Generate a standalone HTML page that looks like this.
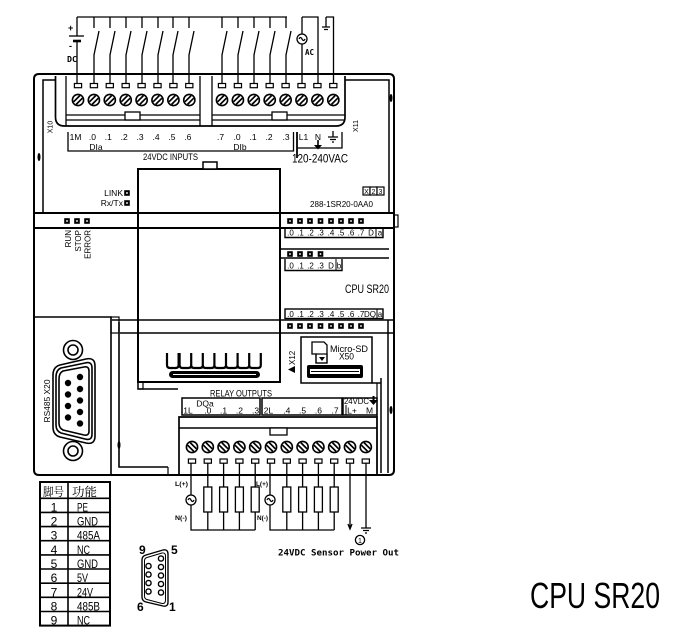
<!DOCTYPE html>
<html><head><meta charset="utf-8">
<style>
html,body{margin:0;padding:0;background:#fff;}
svg{display:block;}
text{font-family:"Liberation Sans",sans-serif;fill:#000;}
.m{font-family:"DejaVu Sans Mono","Liberation Mono",monospace;font-weight:bold;}
</style></head><body>
<svg width="687" height="635" viewBox="0 0 687 635" xmlns="http://www.w3.org/2000/svg">
<defs>
 <g id="sa"><circle r="5.6" fill="#fff" stroke="#000" stroke-width="1.6"/><path d="M-4.4,1.8L1.8,-4.4M-1.8,4.4L4.4,-1.8" stroke="#000" stroke-width="1.7"/></g>
 <g id="sb"><circle r="5.6" fill="#fff" stroke="#000" stroke-width="1.6"/><path d="M-1.8,-4.4L4.4,1.8M-4.4,-1.8L1.8,4.4" stroke="#000" stroke-width="1.7"/></g>
 <rect id="tr" x="-3.6" y="0" width="7.2" height="4.2" fill="#fff" stroke="#000" stroke-width="1.2"/>
 <g id="led"><rect x="-2.8" y="-2.8" width="5.6" height="5.6" fill="#000"/><rect x="-0.8" y="-0.8" width="1.6" height="1.6" fill="#fff"/></g>
 <g id="ld"><rect x="-4" y="0" width="8" height="25" fill="#fff" stroke="#000" stroke-width="1.3"/></g>
</defs>

<!-- ===== top wiring ===== -->
<g stroke="#000" stroke-width="1.3" fill="none">
 <path d="M77,17H287"/>
 <path d="M77,17V36M77,41V84"/>
 <path d="M69,36H84"/>
 <path d="M73,41H81" stroke-width="2.6"/>
 <path d="M94,17V28M99,31L94,55V84"/>
 <path d="M110,17V28M115,31L110,55V84"/>
 <path d="M126,17V28M131,31L126,55V84"/>
 <path d="M142,17V28M147,31L142,55V84"/>
 <path d="M158,17V28M163,31L158,55V84"/>
 <path d="M173,17V28M178,31L173,55V84"/>
 <path d="M189,17V28M194,31L189,55V84"/>
 <path d="M222,17V28M227,31L222,55V84"/>
 <path d="M238,17V28M243,31L238,55V84"/>
 <path d="M254,17V28M259,31L254,55V84"/>
 <path d="M270,17V28M275,31L270,55V84"/>
 <path d="M286,17V28M291,31L286,55V84"/>
 <path d="M302,17H318V84M302,17V34M302,44V84"/>
 <circle cx="302" cy="39" r="5"/>
 <path d="M299,39q1.5,-3 3,0t3,0"/>
 <path d="M326,17V27M322,27H330M324,29.5H328M326,17H333.5V84"/>
</g>
<text x="68" y="31" font-size="9" font-weight="bold">+</text>
<text x="69" y="49" font-size="9" font-weight="bold">-</text>
<text x="67" y="62" font-size="8" font-weight="bold" class="m" textLength="10" lengthAdjust="spacingAndGlyphs">DC</text>
<text x="305" y="55" font-size="8" class="m" textLength="9" lengthAdjust="spacingAndGlyphs">AC</text>

<!-- ===== body ===== -->
<g stroke="#000" fill="none">
 <path d="M34,79Q34,74 39,74H389Q394,74 394,79V470Q394,475 389,475H39Q34,475 34,470Z" stroke-width="2"/>
 <path d="M43,213V80H55M345,80H389V213" stroke-width="1.5"/>
 <path d="M34,213H394M34,228H394" stroke-width="2"/>
 <rect x="394" y="215" width="4" height="12" stroke-width="1.2"/>
 <path d="M55.5,76V117Q55.5,126 64.5,126H336Q345,126 345,117V76" stroke-width="1.7"/>
 <path d="M66,76V126M200,76V126M212,76V126M66,115H200M66,120H200M212,115H345M212,120H345" stroke-width="1.3"/>
</g>
<rect x="125" y="112" width="15" height="8" fill="#fff" stroke="#000" stroke-width="1.3"/>
<rect x="272" y="112" width="15" height="8" fill="#fff" stroke="#000" stroke-width="1.3"/>
<ellipse cx="39" cy="157" rx="1.5" ry="4" fill="#000"/>
<ellipse cx="391" cy="98" rx="1.5" ry="4" fill="#000"/>
<ellipse cx="391" cy="410" rx="1.5" ry="4" fill="#000"/>
<ellipse cx="119" cy="445" rx="1.5" ry="4" fill="#000"/>

<!-- top terminals -->
<g>
 <use href="#tr" x="78" y="83.5"/><use href="#tr" x="93.9" y="83.5"/><use href="#tr" x="109.8" y="83.5"/><use href="#tr" x="125.7" y="83.5"/>
 <use href="#tr" x="141.6" y="83.5"/><use href="#tr" x="157.5" y="83.5"/><use href="#tr" x="173.4" y="83.5"/><use href="#tr" x="189.3" y="83.5"/>
 <use href="#tr" x="222" y="83.5"/><use href="#tr" x="237.9" y="83.5"/><use href="#tr" x="253.8" y="83.5"/><use href="#tr" x="269.7" y="83.5"/>
 <use href="#tr" x="285.6" y="83.5"/><use href="#tr" x="301.5" y="83.5"/><use href="#tr" x="317.4" y="83.5"/><use href="#tr" x="333.3" y="83.5"/>
 <use href="#sa" x="78" y="100"/><use href="#sa" x="93.9" y="100"/><use href="#sa" x="109.8" y="100"/><use href="#sa" x="125.7" y="100"/>
 <use href="#sa" x="141.6" y="100"/><use href="#sa" x="157.5" y="100"/><use href="#sa" x="173.4" y="100"/><use href="#sa" x="189.3" y="100"/>
 <use href="#sa" x="222" y="100"/><use href="#sa" x="237.9" y="100"/><use href="#sa" x="253.8" y="100"/><use href="#sa" x="269.7" y="100"/>
 <use href="#sa" x="285.6" y="100"/><use href="#sa" x="301.5" y="100"/><use href="#sa" x="317.4" y="100"/><use href="#sa" x="333.3" y="100"/>
</g>

<!-- top labels -->
<g font-size="8.5" text-anchor="middle">
 <text x="75.5" y="140">1M</text>
 <text x="92.4" y="140">.0</text><text x="108.3" y="140">.1</text><text x="124.2" y="140">.2</text><text x="140.1" y="140">.3</text>
 <text x="156" y="140">.4</text><text x="171.9" y="140">.5</text><text x="187.8" y="140">.6</text>
 <text x="220.5" y="140">.7</text><text x="237" y="140">.0</text><text x="253" y="140">.1</text><text x="269" y="140">.2</text><text x="286" y="140">.3</text>
 <text x="303.5" y="140">L1</text><text x="318" y="140">N</text>
 <text x="96" y="150">DIa</text><text x="240" y="150">DIb</text>
</g>
<g stroke="#000" fill="none" stroke-width="1.3">
 <path d="M68,132V151H293.5V132"/>
 <path d="M297,132V158" stroke-width="1.8"/>
 <path d="M297,148H342V132"/>
 <path d="M318,140V145" stroke-width="1.6"/>
 <path d="M333,131V137M328,137H338M330,139.5H336M332,142H334"/>
</g>
<path d="M314,145H322L318,149.5Z" fill="#000"/>
<text x="143" y="160" font-size="9" textLength="55" lengthAdjust="spacingAndGlyphs">24VDC INPUTS</text>
<text x="292" y="162.5" font-size="12" textLength="56" lengthAdjust="spacingAndGlyphs">120-240VAC</text>
<text transform="translate(52.5,127) rotate(-90)" font-size="7" text-anchor="middle">X10</text>
<text transform="translate(358,126) rotate(-90)" font-size="7" text-anchor="middle">X11</text>

<!-- central rect -->
<path d="M138,382V169H280V382Z" fill="none" stroke="#000" stroke-width="2"/>
<path d="M195,169H225" stroke="#000" stroke-width="2"/>
<rect x="203" y="162" width="14" height="7" fill="#fff" stroke="#000" stroke-width="1.5"/>
<path d="M138,213H280M138,228H280" stroke="#000" stroke-width="2"/>

<!-- LINK Rx/Tx -->
<text x="123" y="196" font-size="8.5" text-anchor="end">LINK</text>
<text x="123" y="206" font-size="8.5" text-anchor="end">Rx/Tx</text>
<use href="#led" x="127" y="193"/><use href="#led" x="127" y="203"/>

<!-- RUN STOP ERROR -->
<use href="#led" x="67" y="221"/><use href="#led" x="77" y="221"/><use href="#led" x="87" y="221"/>
<g font-size="8" text-anchor="end">
 <text transform="translate(71,230) rotate(-90)">RUN</text>
 <text transform="translate(81,230) rotate(-90)">STOP</text>
 <text transform="translate(90.5,230) rotate(-90)">ERROR</text>
</g>

<!-- right top region -->
<g stroke="#000" fill="#fff" stroke-width="1.2">
 <rect x="363" y="187" width="7" height="8"/><rect x="370" y="187" width="7" height="8"/><rect x="377" y="187" width="7" height="8"/>
</g>
<g font-size="7" text-anchor="middle"><text x="366.5" y="194">X</text><text x="373.5" y="194">2</text><text x="380.5" y="194">3</text></g>
<text x="310" y="207" font-size="8.5" textLength="63" lengthAdjust="spacingAndGlyphs">288-1SR20-0AA0</text>

<g>
 <use href="#led" x="290" y="221"/><use href="#led" x="300" y="221"/><use href="#led" x="310" y="221"/><use href="#led" x="320.5" y="221"/>
 <use href="#led" x="331" y="221"/><use href="#led" x="341" y="221"/><use href="#led" x="351" y="221"/><use href="#led" x="361" y="221"/>
 <use href="#led" x="290" y="254"/><use href="#led" x="300" y="254"/><use href="#led" x="310" y="254"/><use href="#led" x="320.5" y="254"/>
 <use href="#led" x="290" y="326"/><use href="#led" x="300" y="326"/><use href="#led" x="310" y="326"/><use href="#led" x="320.5" y="326"/>
 <use href="#led" x="331" y="326"/><use href="#led" x="341" y="326"/><use href="#led" x="351" y="326"/><use href="#led" x="361" y="326"/>
</g>
<g stroke="#000" fill="none" stroke-width="1.4">
 <path d="M285,228V237.5H383V228"/>
 <path d="M280,249H389M280,258H389"/>
 <path d="M285,259V270.5H342V259"/>
 <rect x="285" y="309" width="98" height="9.5"/>
 <path d="M112,320H394M120,333H394" stroke-width="1.6"/>
 <path d="M376,228V237.5M336,259V270.5M377,309V318.5" stroke-width="1"/>
</g>
<g font-size="8" text-anchor="middle">
 <text x="290.5" y="235.5">.0</text><text x="300.5" y="235.5">.1</text><text x="310.5" y="235.5">.2</text><text x="320.5" y="235.5">.3</text>
 <text x="331" y="235.5">.4</text><text x="341" y="235.5">.5</text><text x="351" y="235.5">.6</text><text x="361" y="235.5">.7</text>
 <text x="371" y="235.5">D</text><text x="380" y="235.5">a</text>
 <text x="290.5" y="268.5">.0</text><text x="300.5" y="268.5">.1</text><text x="310.5" y="268.5">.2</text><text x="320.5" y="268.5">.3</text>
 <text x="331" y="268.5">D</text><text x="339" y="268.5">b</text>
 <text x="290.5" y="316.8">.0</text><text x="300.5" y="316.8">.1</text><text x="310.5" y="316.8">.2</text><text x="320.5" y="316.8">.3</text>
 <text x="331" y="316.8">.4</text><text x="341" y="316.8">.5</text><text x="351" y="316.8">.6</text><text x="361" y="316.8">.7</text>
 <text x="370" y="316.8">DQ</text><text x="380" y="316.8">a</text>
</g>
<text x="345" y="293" font-size="11.5" textLength="44" lengthAdjust="spacingAndGlyphs">CPU SR20</text>

<!-- RS485 section -->
<g stroke="#000" fill="none" stroke-width="1.6">
 <path d="M34,317H111V475"/>
 <path d="M119,322V467H168"/>
 <rect x="111" y="317" width="8" height="16" stroke-width="1.2"/>
 <path d="M138,382V389H178" stroke-width="1.4"/>
 <rect x="138" y="382" width="5" height="7" stroke-width="1.2"/>
 <path d="M168,467V475" stroke-width="1.2"/>
</g>
<text transform="translate(50,401) rotate(-90)" font-size="8.5" text-anchor="middle" textLength="43" lengthAdjust="spacingAndGlyphs">RS485 X20</text>
<!-- big DB9 -->
<g stroke="#000" fill="none" stroke-width="1.6">
 <circle cx="73" cy="350" r="9.5"/><circle cx="73" cy="350" r="5"/>
 <circle cx="73" cy="451" r="9.5"/><circle cx="73" cy="451" r="5"/>
 <path d="M60,365Q53,367 53,375V427Q53,435 60,437L86,443Q95,445 95,436V366Q95,357 86,359Z" fill="#fff"/>
 <path d="M61,368Q56,370 56,377V425Q56,431 61,433L85,439Q92,441 92,434V368Q92,361 85,363Z"/>
 <path d="M63,371Q59,373 59,379V423Q59,428 63,430L84,435Q89,436 89,431V371Q89,366 84,367Z"/>
</g>
<g fill="#000">
 <circle cx="80" cy="377" r="3.2"/><circle cx="80" cy="389" r="3.2"/><circle cx="80" cy="400.5" r="3.2"/><circle cx="80" cy="412" r="3.2"/><circle cx="80" cy="423.5" r="3.2"/>
 <circle cx="68" cy="383" r="3.2"/><circle cx="68" cy="394.5" r="3.2"/><circle cx="68" cy="406" r="3.2"/><circle cx="68" cy="417.5" r="3.2"/>
</g>

<!-- connector teeth -->
<path d="M167,353V365q0,3 3,3h5.6q3,0 3,-3V353M179.6,353V365q0,3 3,3h5.6q3,0 3,-3V353M191.2,353V365q0,3 3,3h5.6q3,0 3,-3V353M202.8,353V365q0,3 3,3h5.6q3,0 3,-3V353M214.4,353V365q0,3 3,3h5.6q3,0 3,-3V353M226,353V365q0,3 3,3h5.6q3,0 3,-3V353M237.6,353V365q0,3 3,3h5.6q3,0 3,-3V353M249.2,353V365q0,3 3,3h5.6q3,0 3,-3V353" fill="none" stroke="#000" stroke-width="2.2"/>
<rect x="169" y="371" width="91" height="7" rx="3.5" fill="#000"/>
<path d="M173,374.5H256" stroke="#fff" stroke-width="1"/>

<!-- X12 & micro SD -->
<text transform="translate(295,365) rotate(-90)" font-size="8">X12</text>
<path d="M288,369.5L295,366V373Z" fill="#000"/>
<rect x="301" y="337" width="71" height="46" fill="none" stroke="#000" stroke-width="1.5"/>
<path d="M312,342H324L327,345V363H316V354H312Z" fill="#fff" stroke="#000" stroke-width="1.3"/>
<rect x="316" y="354" width="11" height="9" fill="none" stroke="#000" stroke-width="1.2"/>
<path d="M319,357H325L322,361Z" fill="#000"/>
<text x="330" y="352" font-size="9.5" textLength="38" lengthAdjust="spacingAndGlyphs">Micro-SD</text>
<text x="339" y="359.5" font-size="9" textLength="15" lengthAdjust="spacingAndGlyphs">X50</text>
<rect x="307" y="365" width="56" height="13" rx="2" fill="#000"/>
<rect x="310" y="369" width="50" height="5" fill="#fff"/>
<path d="M311,371.5H359" stroke="#000" stroke-width="1"/>
<g stroke="#000" fill="none" stroke-width="1.5">
 <path d="M372,383H381M381,378V473M388,320V473"/>
 <path d="M377,383V473" stroke-width="1.2"/>
</g>

<!-- relay outputs -->
<text x="210" y="396.5" font-size="9" textLength="62" lengthAdjust="spacingAndGlyphs">RELAY OUTPUTS</text>
<g stroke="#000" fill="none" stroke-width="1.5">
 <rect x="182" y="398" width="78" height="17"/>
 <rect x="262" y="398" width="80" height="17"/>
 <rect x="343" y="398" width="34" height="17"/>
 <path d="M346,405V415" stroke-width="1"/>
 <path d="M373.5,396V400" stroke-width="2"/>
</g>
<path d="M369,400H378L373.5,405Z" fill="#000"/>
<text x="344" y="404" font-size="8.5" textLength="25" lengthAdjust="spacingAndGlyphs">24VDC</text>
<text x="205" y="406.5" font-size="8.5" text-anchor="middle">DQa</text>
<g font-size="8.5" text-anchor="middle">
 <text x="188" y="413.5">1L</text><text x="207.8" y="413.5">.0</text><text x="223.6" y="413.5">.1</text><text x="239.4" y="413.5">.2</text><text x="255.5" y="413.5">.3</text>
 <text x="268.5" y="413.5">2L</text><text x="286.8" y="413.5">.4</text><text x="302.6" y="413.5">.5</text><text x="318.4" y="413.5">.6</text><text x="335" y="413.5">.7</text>
 <text x="352" y="413.5">L+</text><text x="369.5" y="413.5">M</text>
</g>

<!-- bottom terminal block -->
<path d="M179,475V417H377V475" fill="none" stroke="#000" stroke-width="1.7"/>
<path d="M179,428H377" stroke="#000" stroke-width="1.5"/>
<rect x="270" y="428" width="17" height="7" fill="#fff" stroke="#000" stroke-width="1.3"/>
<g>
 <use href="#sb" x="192" y="447"/><use href="#sb" x="207.8" y="447"/><use href="#sb" x="223.6" y="447"/><use href="#sb" x="239.4" y="447"/>
 <use href="#sb" x="255.2" y="447"/><use href="#sb" x="271" y="447"/><use href="#sb" x="286.8" y="447"/><use href="#sb" x="302.6" y="447"/>
 <use href="#sb" x="318.4" y="447"/><use href="#sb" x="334.2" y="447"/><use href="#sb" x="350" y="447"/><use href="#sb" x="365.8" y="447"/>
 <use href="#tr" x="192" y="459"/><use href="#tr" x="207.8" y="459"/><use href="#tr" x="223.6" y="459"/><use href="#tr" x="239.4" y="459"/>
 <use href="#tr" x="255.2" y="459"/><use href="#tr" x="271" y="459"/><use href="#tr" x="286.8" y="459"/><use href="#tr" x="302.6" y="459"/>
 <use href="#tr" x="318.4" y="459"/><use href="#tr" x="334.2" y="459"/><use href="#tr" x="350" y="459"/><use href="#tr" x="365.8" y="459"/>
</g>

<!-- bottom wiring -->
<g stroke="#000" fill="none" stroke-width="1.3">
 <path d="M191,463.2V495M191,505V530H255.2"/>
 <circle cx="191" cy="500" r="5"/>
 <path d="M188,500q1.5,-3 3,0t3,0"/>
 <path d="M207.8,463.2V487M207.8,512V530M223.6,463.2V487M223.6,512V530M239.4,463.2V487M239.4,512V530M255.2,463.2V487M255.2,512V530"/>
 <path d="M270,463.2V495M270,505V530H334.2"/>
 <circle cx="270" cy="500" r="5"/>
 <path d="M267,500q1.5,-3 3,0t3,0"/>
 <path d="M286.8,463.2V487M286.8,512V530M302.6,463.2V487M302.6,512V530M318.4,463.2V487M318.4,512V530M334.2,463.2V487M334.2,512V530"/>
 <path d="M350,463.2V528M348,524L350,529L352,524"/>
 <path d="M366,463.2V528M361,528H371M363,530.5H369M365,533H367" />
 <circle cx="360" cy="540" r="4.6"/>
</g>
<g>
 <use href="#ld" x="207.8" y="487"/><use href="#ld" x="223.6" y="487"/><use href="#ld" x="239.4" y="487"/><use href="#ld" x="255.2" y="487"/>
 <use href="#ld" x="286.8" y="487"/><use href="#ld" x="302.6" y="487"/><use href="#ld" x="318.4" y="487"/><use href="#ld" x="334.2" y="487"/>
</g>
<text x="360" y="543" font-size="7" text-anchor="middle">1</text>
<g class="m" font-size="6.5">
 <text x="175" y="486" textLength="13" lengthAdjust="spacingAndGlyphs">L(+)</text>
 <text x="175" y="520" textLength="12" lengthAdjust="spacingAndGlyphs">N(-)</text>
 <text x="256" y="486" textLength="12" lengthAdjust="spacingAndGlyphs">L(+)</text>
 <text x="257" y="520" textLength="11" lengthAdjust="spacingAndGlyphs">N(-)</text>
</g>
<text x="278" y="555.5" class="m" font-size="8.5" textLength="121" lengthAdjust="spacingAndGlyphs">24VDC Sensor Power Out</text>

<!-- table -->
<g stroke="#000" fill="none">
 <rect x="40" y="482" width="70" height="143.6" stroke-width="2"/>
 <path d="M68,482V625.6" stroke-width="1.6"/>
 <path d="M40,498.3H110M40,512.4H110M40,526.6H110M40,540.7H110M40,554.9H110M40,569H110M40,583.2H110M40,597.3H110M40,611.5H110" stroke-width="1.6"/>
</g>
<text x="43" y="496" font-size="12" textLength="21" lengthAdjust="spacingAndGlyphs" style="font-family:'Noto Serif CJK SC','Noto Sans CJK SC',serif">脚号</text>
<text x="72" y="496" font-size="12" textLength="25" lengthAdjust="spacingAndGlyphs" style="font-family:'Noto Serif CJK SC','Noto Sans CJK SC',serif">功能</text>
<g font-size="12" text-anchor="middle">
 <text x="54" y="511.4">1</text><text x="54" y="525.5">2</text><text x="54" y="539.7">3</text><text x="54" y="553.8">4</text>
 <text x="54" y="568">5</text><text x="54" y="582.1">6</text><text x="54" y="596.3">7</text><text x="54" y="610.4">8</text><text x="54" y="624.6">9</text>
</g>
<g font-size="12">
 <text x="77" y="511.4" textLength="11" lengthAdjust="spacingAndGlyphs">PE</text>
 <text x="77" y="525.5" textLength="21" lengthAdjust="spacingAndGlyphs">GND</text>
 <text x="77" y="539.7" textLength="23" lengthAdjust="spacingAndGlyphs">485A</text>
 <text x="77" y="553.8" textLength="13" lengthAdjust="spacingAndGlyphs">NC</text>
 <text x="77" y="568" textLength="21" lengthAdjust="spacingAndGlyphs">GND</text>
 <text x="77" y="582.1" textLength="11" lengthAdjust="spacingAndGlyphs">5V</text>
 <text x="77" y="596.3" textLength="16" lengthAdjust="spacingAndGlyphs">24V</text>
 <text x="77" y="610.4" textLength="23" lengthAdjust="spacingAndGlyphs">485B</text>
 <text x="77" y="624.6" textLength="13" lengthAdjust="spacingAndGlyphs">NC</text>
</g>

<!-- small DB9 -->
<g stroke="#000" fill="none" stroke-width="1.4">
 <path d="M146,555L163,550Q168,549 168,554V602Q168,607 163,606L146,602Q142,601 142,597V560Q142,556 146,555Z"/>
 <path d="M147,557.5L162,553Q165.5,552.5 165.5,556V600Q165.5,604 162,603.5L147,599.5Q144.5,599 144.5,596V561Q144.5,558 147,557.5Z" stroke-width="1"/>
 <circle cx="148.5" cy="566" r="2.6"/><circle cx="148.5" cy="574.5" r="2.6"/><circle cx="148.5" cy="583" r="2.6"/><circle cx="148.5" cy="591.5" r="2.6"/>
 <circle cx="161" cy="558.5" r="2.6"/><circle cx="161" cy="567" r="2.6"/><circle cx="161" cy="575.5" r="2.6"/><circle cx="161" cy="584" r="2.6"/><circle cx="161" cy="592.5" r="2.6"/>
</g>
<g font-size="12" font-weight="bold" style="font-family:'DejaVu Sans','Liberation Sans',sans-serif">
 <text x="139" y="554">9</text><text x="171" y="554">5</text>
 <text x="137" y="611">6</text><text x="169" y="611">1</text>
</g>

<!-- big label -->
<text x="530" y="608" font-size="36" textLength="130" lengthAdjust="spacingAndGlyphs">CPU SR20</text>
</svg>
</body></html>
